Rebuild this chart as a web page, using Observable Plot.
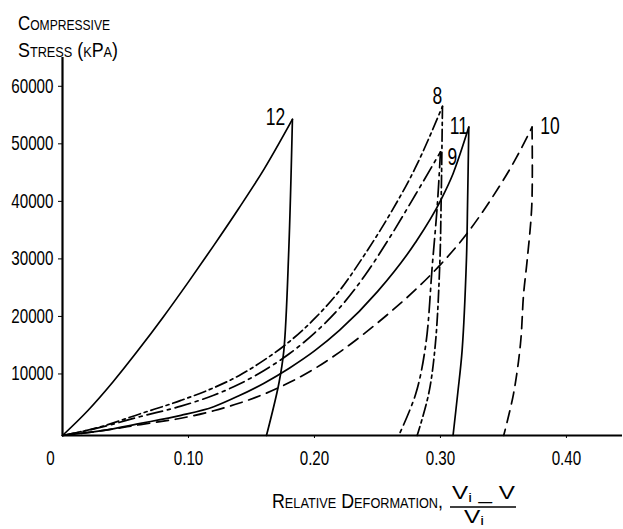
<!DOCTYPE html>
<html>
<head>
<meta charset="utf-8">
<script src="https://cdn.jsdelivr.net/npm/d3@7"></script>
<script src="https://cdn.jsdelivr.net/npm/@observablehq/plot@0.6"></script>
<style>
  html, body { margin: 0; padding: 0; background: #fff; }
  #chart svg { display: block; }
</style>
</head>
<body>
<div id="chart"></div>
<script>
// ---- Data ----
const specimens = ["8", "9", "10", "11", "12"];

// loading branches [relative deformation, compressive stress kPa]
const load8  = [[0,0],[0.03,1500],[0.062,3800],[0.094,6100],[0.12,8300],[0.14,10400],[0.16,13100],[0.18,16300],[0.20,20300],[0.22,25200],[0.24,31500],[0.26,38500],[0.28,46500],[0.3016,57200]];
const load9  = [[0,0],[0.03,1400],[0.062,3300],[0.094,5100],[0.12,7000],[0.14,8900],[0.16,11300],[0.18,14200],[0.20,17800],[0.22,22200],[0.24,27800],[0.26,34500],[0.28,41800],[0.300,49300]];
const load10 = [[0,0],[0.03,800],[0.062,1900],[0.094,3000],[0.12,4300],[0.14,5600],[0.16,7200],[0.18,9200],[0.20,11600],[0.22,14500],[0.24,17800],[0.26,21400],[0.28,25300],[0.30,29700],[0.32,34800],[0.34,41000],[0.36,48200],[0.3727,53600]];
const load11 = [[0,0],[0.03,800],[0.062,2100],[0.094,3500],[0.12,5000],[0.14,6900],[0.16,9100],[0.18,11700],[0.20,14700],[0.22,18300],[0.25,25000],[0.28,33500],[0.30,40800],[0.31,45500],[0.3225,53600]];
const load12 = [[0,0],[0.02,4300],[0.04,9300],[0.06,14800],[0.08,20600],[0.10,26700],[0.12,33000],[0.14,39500],[0.16,46300],[0.1825,54950]];

// unloading branches
const unload8  = [[0.3016,57200],[0.3005,40000],[0.2995,30000],[0.296,16000],[0.2907,7300],[0.2815,0]];
const unload9  = [[0.300,49300],[0.2975,40000],[0.2935,29500],[0.2884,15900],[0.2804,7250],[0.2669,0]];
const unload10 = [[0.3727,53600],[0.3725,40000],[0.3688,30400],[0.366,24600],[0.3635,15900],[0.358,7250],[0.3502,0]];
const unload11 = [[0.3225,53600],[0.3215,40000],[0.3206,30400],[0.3172,14800],[0.3137,7300],[0.310,0]];
const unload12 = [[0.1825,54950],[0.1796,32200],[0.1757,14800],[0.1717,9000],[0.1619,0]];

const xTicks = [0.1, 0.2, 0.3, 0.4];
const xTickLabels = ["0.10", "0.20", "0.30", "0.40"];
const yTicks = [10000, 20000, 30000, 40000, 50000, 60000];
const yTickLabels = ["10000", "20000", "30000", "40000", "50000", "60000"];

// ---- Styles ----
const FONT = "'Liberation Sans', Arial, sans-serif";
const dashes = {"8": "12,4,3,4", "9": "16,5,3,5", "10": "12,7", "11": null, "12": null};
const labelOffsets = {"8": [-5, -10], "9": [12, 6], "10": [18, 0], "11": [-10, 0], "12": [-17, -2]};

const loads = {"8": load8, "9": load9, "10": load10, "11": load11, "12": load12};
const unloads = {"8": unload8, "9": unload9, "10": unload10, "11": unload11, "12": unload12};

const marks = [];
for (const id of specimens) {
  const common = {x: d => d[0], y: d => d[1], stroke: "#000", strokeWidth: 1.7};
  if (dashes[id]) common.strokeDasharray = dashes[id];
  marks.push(Plot.line(loads[id], {...common, curve: "monotone-x"}));
  marks.push(Plot.line(unloads[id], {...common, curve: "catmull-rom"}));
  const peak = loads[id][loads[id].length - 1];
  marks.push(Plot.text([peak], {
    x: d => d[0], y: d => d[1], text: [id],
    dx: labelOffsets[id][0], dy: labelOffsets[id][1],
    fontSize: 23, fill: "#000"
  }));
}

const chart = Plot.plot({
  width: 623,
  height: 529,
  marginLeft: 62,
  marginRight: 1,
  marginTop: 57,
  marginBottom: 94,
  style: {fontFamily: FONT, fontSize: "20px", color: "#000", background: "#fff", overflow: "visible"},
  x: {domain: [0, 0.4445]},
  y: {domain: [0, 65700]},
  marks: [
    Plot.ruleY([0], {stroke: "#000", strokeWidth: 2.2}),
    Plot.ruleX([0], {stroke: "#000", strokeWidth: 2.2}),
    Plot.axisX({ticks: xTicks, tickFormat: (d, i) => xTickLabels[i], tickSize: 3, tickPadding: 12, label: null, fontSize: 20}),
    Plot.text([0], {x: d => d, frameAnchor: "bottom", lineAnchor: "top", dy: 15, dx: -12, text: ["0"], fontSize: 20}),
    Plot.axisY({ticks: yTicks, tickFormat: (d, i) => yTickLabels[i], tickSize: 4, tickPadding: 5, dy: -4, label: null, fontSize: 20}),
    ...marks
  ]
});

// condense the glyphs horizontally (the reference uses a narrow typeface)
d3.select(chart).selectAll("text").each(function () {
  const el = d3.select(this);
  const t = el.attr("transform");
  if (t) {
    el.attr("transform", t + " scale(0.76,1)");
  } else {
    const x = +el.attr("x") || 0, y = +el.attr("y") || 0;
    el.attr("x", null).attr("y", null).attr("transform", `translate(${x},${y}) scale(0.76,1)`);
  }
});

document.getElementById("chart").appendChild(chart);

// ---- Axis titles ----
const svg = d3.select(chart);
function label(x, y, size) {
  return svg.append("text")
    .attr("x", x).attr("y", y)
    .attr("font-family", FONT).attr("font-size", size).attr("fill", "#000")
    .attr("text-anchor", "start");
}
label(18, 30, 21).style("font-variant", "small-caps")
  .attr("textLength", 92).attr("lengthAdjust", "spacingAndGlyphs").text("Compressive");
label(18, 57, 21).style("font-variant", "small-caps")
  .attr("textLength", 100).attr("lengthAdjust", "spacingAndGlyphs").text("Stress (kPa)");

label(272, 508, 21).style("font-variant", "small-caps")
  .attr("textLength", 171).attr("lengthAdjust", "spacingAndGlyphs").text("Relative Deformation,");

const num = label(452, 499, 19).attr("textLength", 63).attr("lengthAdjust", "spacingAndGlyphs");
num.append("tspan").text("V");
num.append("tspan").attr("font-size", 13).attr("dy", 3).text("i");
num.append("tspan").attr("dy", -3).text(" _ V");

svg.append("line").attr("x1", 450).attr("x2", 516).attr("y1", 507).attr("y2", 507)
  .attr("stroke", "#000").attr("stroke-width", 1.6);

const den = label(464, 523, 19).attr("textLength", 20).attr("lengthAdjust", "spacingAndGlyphs");
den.append("tspan").text("V");
den.append("tspan").attr("font-size", 13).attr("dy", 2).text("i");
</script>
</body>
</html>
